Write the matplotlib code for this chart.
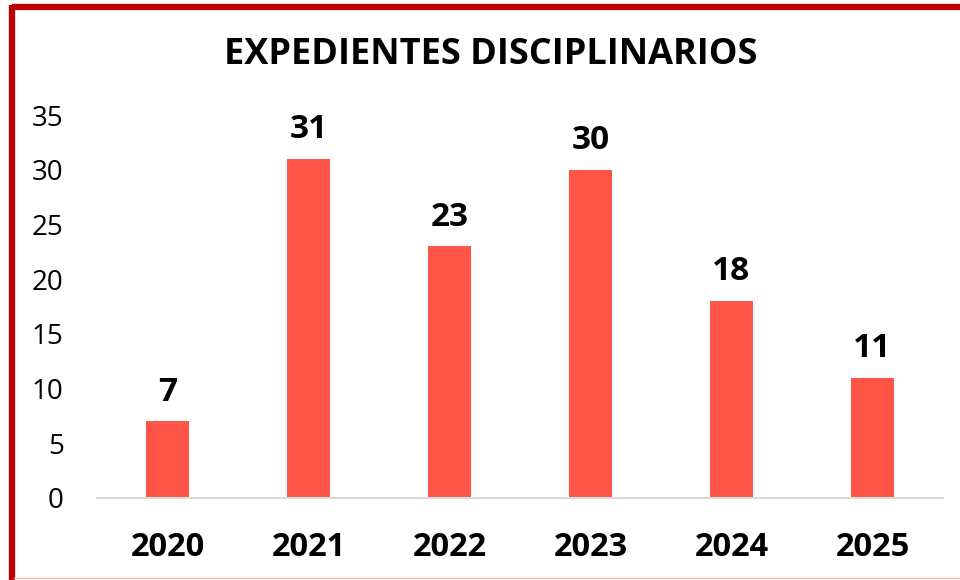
import matplotlib
matplotlib.use("Agg")
import matplotlib.pyplot as plt
from matplotlib.lines import Line2D

years = ["2020", "2021", "2022", "2023", "2024", "2025"]
values = [7, 31, 23, 30, 18, 11]
yticks = [0, 5, 10, 15, 20, 25, 30, 35]
title = "EXPEDIENTES DISCIPLINARIOS"

plt.rcParams['font.family'] = ['Open Sans', 'DejaVu Sans']

W, H = 960, 580
fig = plt.figure(figsize=(W/100, H/100), dpi=100)
ax = fig.add_axes([97/W, 1-498/H, 846/W, (498-115)/H])

x = range(len(years))
ax.bar(x, values, width=0.31, color="#FF5546", zorder=2)
ax.set_xlim(-0.5, len(years)-0.5)
ax.set_ylim(0, 35)
ax.set_yticks(yticks)
ax.set_yticklabels([str(t) for t in yticks], fontsize=20)
ax.set_xticks(list(x))
ax.set_xticklabels(years, fontsize=23.5, fontweight='bold')
ax.tick_params(axis='y', length=0, pad=24)
ax.tick_params(axis='x', length=0, pad=24)
for s in ['top', 'right', 'left']:
    ax.spines[s].set_visible(False)
ax.spines['bottom'].set_color('#D9D9D9')
ax.spines['bottom'].set_linewidth(1.5)

for xi, v in zip(x, values):
    ax.annotate(str(v), (xi, v), xytext=(0, 21), textcoords='offset points',
                ha='center', va='center', fontsize=24, fontweight='bold')

fig.text(491/W, 1-55/H, title, ha='center', va='center', fontsize=26, fontweight='bold')

# frame border
red = "#C00000"
fig.add_artist(Line2D([11.5/W, 1.0], [1-6.5/H, 1-6.5/H], color=red, lw=4.5, solid_capstyle='butt', transform=fig.transFigure))
fig.add_artist(Line2D([11.5/W, 11.5/W], [0, 1-4.5/H], color=red, lw=4.5, solid_capstyle='butt', transform=fig.transFigure))
fig.add_artist(Line2D([14/W, 1.0], [1-578/H, 1-578/H], color="#F4B8B8", lw=1, transform=fig.transFigure))

fig.savefig("out.png", dpi=100)
